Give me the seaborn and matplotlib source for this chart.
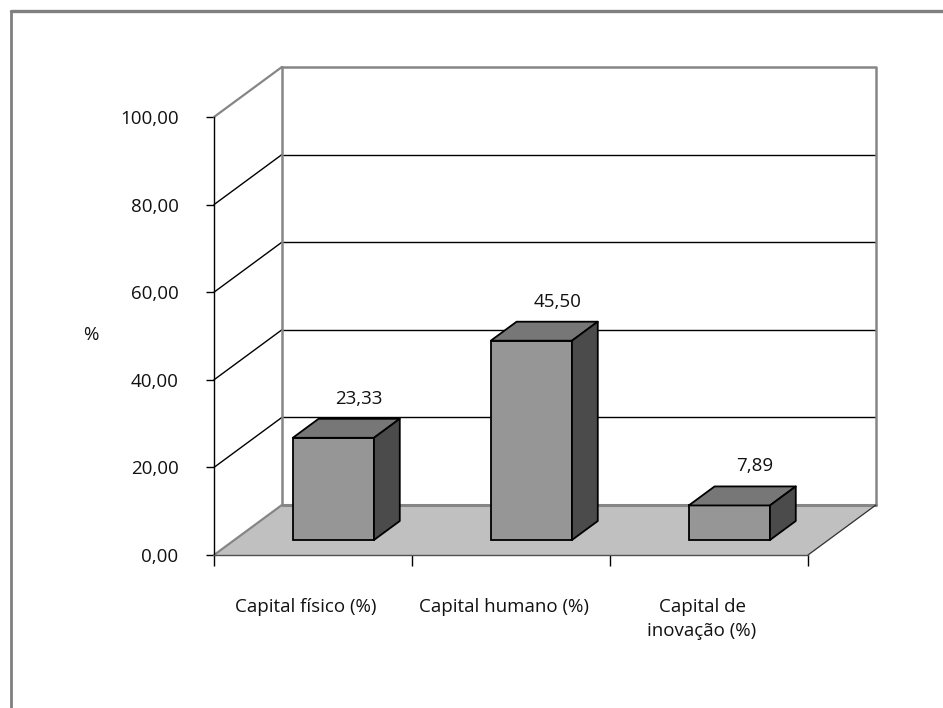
import numpy as np
import pandas as pd
import matplotlib
matplotlib.use("Agg")
import matplotlib.pyplot as plt
import matplotlib.transforms as mtransforms
from matplotlib.patches import Polygon
from matplotlib.lines import Line2D
import seaborn as sns

# Data
categories = ["Capital físico (%)", "Capital humano (%)", "Capital de\ninovação (%)"]
values = [23.33, 45.50, 7.89]
value_labels = ["23,33", "45,50", "7,89"]
y_ticks = [0, 20, 40, 60, 80, 100]
y_tick_labels = ["0,00", "20,00", "40,00", "60,00", "80,00", "100,00"]
y_title = "%"

sns.set_theme(style="white")
plt.rcParams["font.family"] = ["Open Sans", "DejaVu Sans"]
plt.rcParams["font.weight"] = "normal"
plt.rcParams["axes.labelweight"] = "normal"
TEXT = "#111111"
FS = 13.5

W, H, DPI = 943, 708, 100
fig = plt.figure(figsize=(W / DPI, H / DPI), dpi=DPI)
fig.patch.set_facecolor("white")

# front plane of the 3-D box
ax = fig.add_axes([214 / W, 1 - 555 / H, 594 / W, 438 / H])
ax.patch.set_alpha(0)

# depth vector of the box (category units, value units)
DX, DY = 0.343, 11.42
F_FRONT, F_BACK = 0.30, 0.68   # depth fractions of the bar front / back faces

x_lo, x_hi = -0.5, len(categories) - 0.5
y_lo, y_hi = y_ticks[0], y_ticks[-1]

GRAY_EDGE = "#868686"

# floor
floor = Polygon([(x_lo, y_lo), (x_hi, y_lo), (x_hi + DX, y_lo + DY), (x_lo + DX, y_lo + DY)],
                closed=True, facecolor="#c0c0c0", edgecolor="none", zorder=0.5, clip_on=False)
ax.add_patch(floor)
ax.add_line(Line2D([x_hi, x_hi + DX], [y_lo, y_lo + DY], color="#303030", lw=0.9,
                   zorder=0.9, clip_on=False))
ax.add_line(Line2D([x_lo, x_lo + DX], [y_lo, y_lo + DY], color=GRAY_EDGE, lw=1.6,
                   zorder=0.9, clip_on=False))

# gridlines on back and side walls
for t in y_ticks[1:-1]:
    ax.add_line(Line2D([x_lo + DX, x_hi + DX], [t + DY, t + DY], color="black", lw=1.0,
                       zorder=0.7, clip_on=False))
    ax.add_line(Line2D([x_lo, x_lo + DX], [t, t + DY], color="black", lw=1.0,
                       zorder=0.7, clip_on=False))

# wall borders
ax.add_line(Line2D([x_lo, x_lo + DX], [y_hi, y_hi + DY], color=GRAY_EDGE, lw=1.6,
                   zorder=0.8, clip_on=False))
ax.add_line(Line2D([x_lo + DX, x_hi + DX, x_hi + DX], [y_hi + DY, y_hi + DY, y_lo + DY],
                   color=GRAY_EDGE, lw=1.8, zorder=0.8, clip_on=False))
ax.add_line(Line2D([x_lo + DX, x_lo + DX], [y_lo + DY, y_hi + DY], color=GRAY_EDGE, lw=1.8,
                   zorder=0.8, clip_on=False))
ax.add_line(Line2D([x_lo + DX, x_hi + DX], [y_lo + DY, y_lo + DY], color=GRAY_EDGE, lw=2.2,
                   zorder=0.8, clip_on=False))

# bars (front faces)
df = pd.DataFrame({"categoria": categories, "valor": values})
sns.barplot(data=df, x="categoria", y="valor", ax=ax, color="#969696", saturation=1,
            width=0.41, edgecolor="black", linewidth=1.3, errorbar=None, zorder=3)

a, b = F_FRONT * DX, F_FRONT * DY
c, d = F_BACK * DX, F_BACK * DY
shift = mtransforms.Affine2D().translate(a, b) + ax.transData
bars = [p for p in ax.patches if p is not floor]
for p, lab in zip(bars, value_labels):
    p.set_transform(shift)
    p.set_zorder(3)
    x0, w, h = p.get_x(), p.get_width(), p.get_height()
    top = Polygon([(x0 + a, h + b), (x0 + w + a, h + b), (x0 + w + c, h + d), (x0 + c, h + d)],
                  closed=True, facecolor="#777777", edgecolor="black", lw=1.3,
                  joinstyle="round", zorder=3.1, clip_on=False)
    side = Polygon([(x0 + w + a, b), (x0 + w + c, d), (x0 + w + c, h + d), (x0 + w + a, h + b)],
                   closed=True, facecolor="#4b4b4b", edgecolor="black", lw=1.3,
                   joinstyle="round", zorder=3.1, clip_on=False)
    ax.add_patch(top)
    ax.add_patch(side)
    ax.text(x0 + w / 2 + c, h + d + 4.6, lab, ha="center", va="center",
            fontsize=FS, color=TEXT, zorder=4, clip_on=False)

ax.set_xlim(x_lo, x_hi)
ax.set_ylim(y_lo, y_hi)

# axes
for s in ["top", "right"]:
    ax.spines[s].set_visible(False)
ax.spines["left"].set_color("black")
ax.spines["left"].set_linewidth(1.0)
ax.spines["bottom"].set_color("#505050")
ax.spines["bottom"].set_linewidth(1.0)
ax.spines["left"].set_zorder(2)
ax.spines["bottom"].set_zorder(2)

ax.set_yticks(y_ticks, y_tick_labels)
ax.tick_params(axis="y", which="major", direction="out", length=5.5, width=1.0,
               color="black", pad=20, labelsize=FS, labelcolor=TEXT, left=True)

ax.set_xticks(range(len(categories)), categories)
ax.set_xticks(np.arange(x_lo, x_hi + 0.01, 1.0), minor=True)
ax.tick_params(axis="x", which="major", length=0, pad=31, labelsize=FS, labelcolor=TEXT)
ax.tick_params(axis="x", which="minor", direction="out", length=8, width=1.0,
               color="black", bottom=True)
# category labels sit slightly left of the category centres
label_shift = mtransforms.ScaledTranslation(-5 / 72, 0, fig.dpi_scale_trans)
for t in ax.get_xticklabels():
    t.set_linespacing(1.45)
    t.set_transform(t.get_transform() + label_shift)

ax.set_xlabel("")
ax.set_ylabel(y_title, rotation=0, fontsize=FS, color=TEXT, ha="center", va="center",
              fontweight="normal")
ax.yaxis.set_label_coords(-0.207, 0.502)
ax.grid(False)

# chart area border (top and left edges)
fig.add_artist(Line2D([10.5 / W, 1], [1 - 10.5 / H, 1 - 10.5 / H], color="#808080", lw=2.4,
                      transform=fig.transFigure))
fig.add_artist(Line2D([10.5 / W, 10.5 / W], [0, 1 - 10.5 / H], color="#808080", lw=2.0,
                      transform=fig.transFigure))

fig.savefig("out.png", dpi=DPI)
